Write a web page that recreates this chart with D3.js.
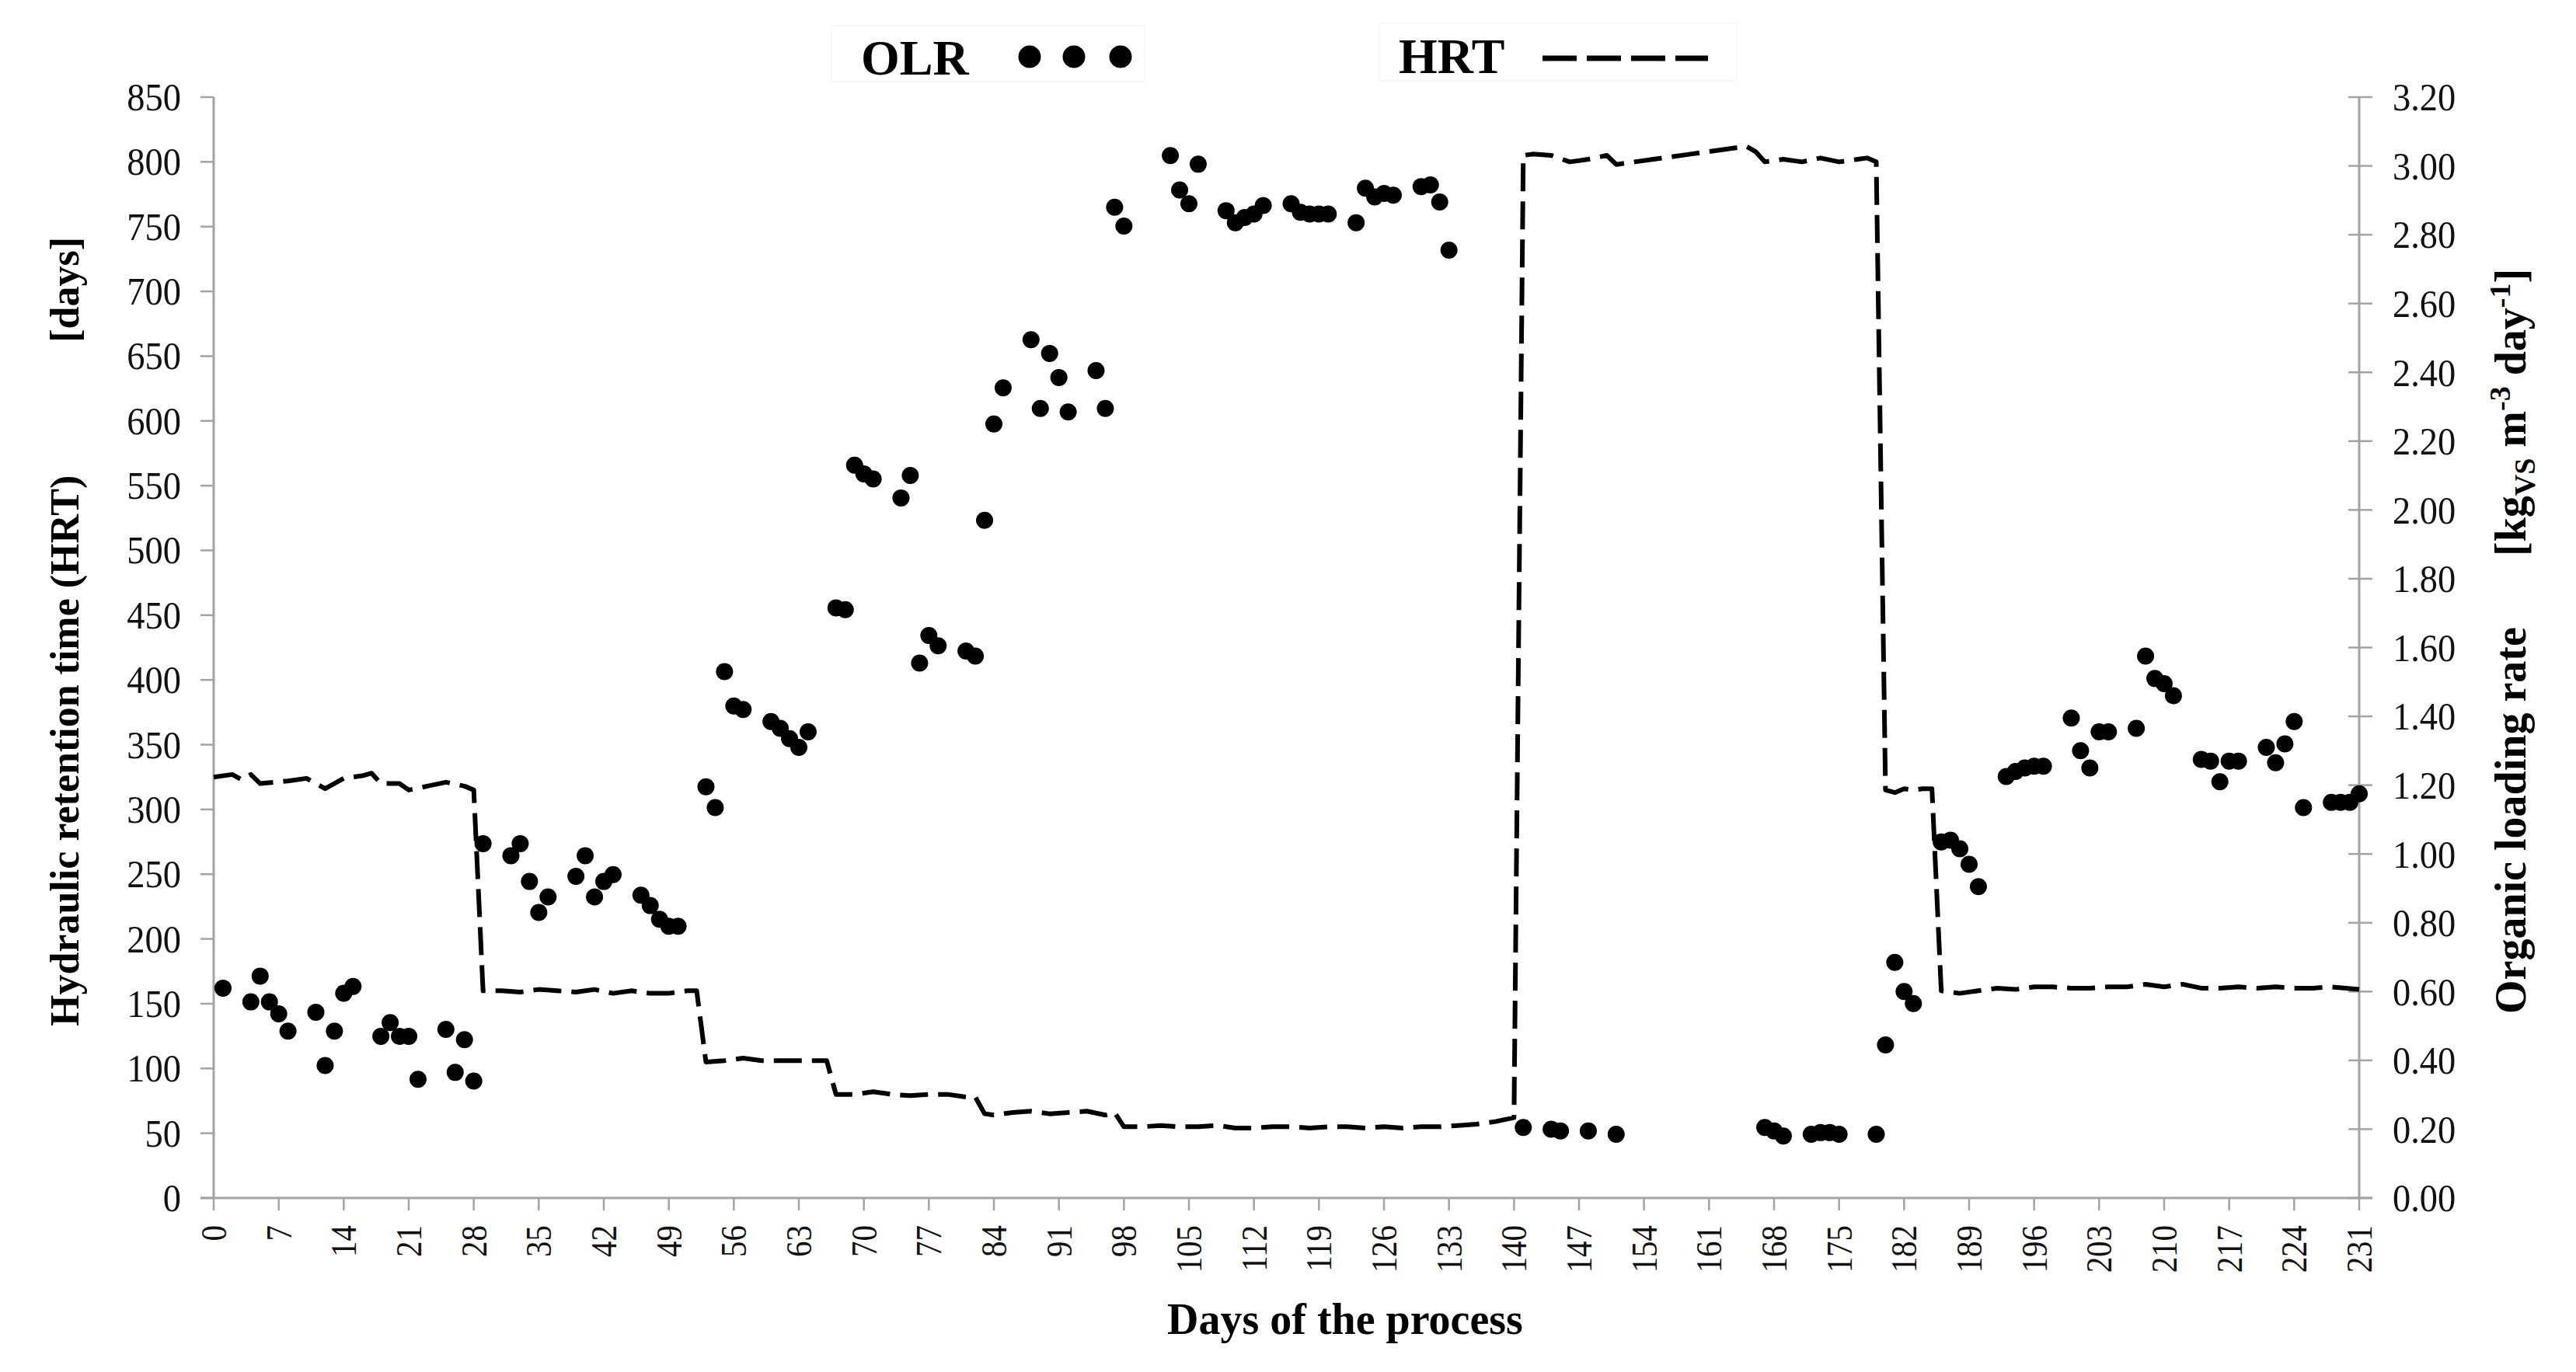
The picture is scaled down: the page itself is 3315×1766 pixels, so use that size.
<!DOCTYPE html>
<html>
<head>
<meta charset="utf-8">
<script src="https://cdn.jsdelivr.net/npm/d3@7"></script>
<style>
  html, body { margin: 0; padding: 0; background: #fff; }
  svg { display: block; }
</style>
</head>
<body>
<script>
// ---------------- DATA ----------------
const olrDays = [1,4,5,6,7,8,11,12,13,14,15,18,19,20,21,22,25,26,27,28,29,32,33,34,35,36,39,40,41,42,43,46,47,48,49,50,
  53,54,55,56,57,60,61,62,63,64,67,68,69,70,71,74,75,76,77,78,81,82,83,84,85,88,89,90,91,92,95,96,97,98,
  103,104,105,106,109,110,111,112,113,116,117,118,119,120,123,124,125,126,127,130,131,132,133,
  141,144,145,148,151,167,168,169,172,173,174,175,179,180,181,182,183,186,187,188,189,190,
  193,194,195,196,197,200,201,202,203,204,207,208,209,210,211,214,215,216,217,218,221,222,223,224,225,228,229,230,231];
const olrValues = [0.61,0.57,0.645,0.57,0.535,0.485,0.54,0.385,0.485,0.595,0.615,0.47,0.51,0.47,0.47,0.345,0.49,0.365,0.46,0.34,1.03,0.995,1.03,0.92,0.83,0.875,0.935,0.995,0.875,0.92,0.94,0.88,0.85,0.81,0.79,0.79,
  1.195,1.135,1.53,1.43,1.42,1.385,1.365,1.335,1.31,1.355,1.715,1.71,2.13,2.105,2.09,2.035,2.10,1.555,1.635,1.605,1.59,1.575,1.97,2.25,2.355,2.495,2.295,2.455,2.385,2.285,2.405,2.295,2.88,2.825,
  3.03,2.93,2.89,3.005,2.87,2.835,2.85,2.86,2.885,2.89,2.865,2.86,2.86,2.86,2.835,2.935,2.91,2.92,2.915,2.94,2.945,2.895,2.755,
  0.205,0.20,0.195,0.195,0.185,0.205,0.195,0.18,0.185,0.19,0.19,0.185,0.185,0.445,0.685,0.60,0.565,1.035,1.04,1.015,0.97,0.905,
  1.225,1.24,1.25,1.255,1.255,1.395,1.30,1.25,1.355,1.355,1.365,1.575,1.51,1.495,1.46,1.275,1.27,1.21,1.27,1.27,1.31,1.265,1.32,1.385,1.135,1.15,1.15,1.15,1.175];

const hrtDays = [0,2,3,4,5,8,10,11,12,14,16,17,18,20,21,23,25,27,28,29,31,33,35,37,39,41,43,45,47,49,51,52,53,55,57,59,61,63,65,66,67,69,71,73,75,77,79,81,82,83,84,86,88,90,92,94,96,97,98,
  100,102,104,106,108,110,112,114,116,118,120,122,124,126,128,130,132,134,136,138,140,141,142,144,146,148,150,151,153,155,157,159,161,163,165,166,167,169,171,173,175,177,178,179,180,181,182,183,184,185,186,
  188,190,192,194,196,198,200,202,204,206,208,210,212,214,216,218,220,222,224,226,228,231];
const hrtValues = [325,327,323,327,320,322,324,320,316,324,326,328,320,320,315,318,321,318,315,160,160,159,161,160,159,161,158,160,158,158,160,160,105,106,108,106,106,106,106,106,80,80,82,80,79,80,80,78,78,65,64,66,67,65,66,67,64,66,55,
  55,56,55,55,56,54,54,55,55,54,55,55,54,55,54,55,55,56,57,59,62,805,806,805,800,802,805,798,800,802,804,806,808,810,812,808,800,802,800,803,800,802,803,800,315,313,316,315,316,316,160,
  158,160,162,161,163,163,162,162,163,163,165,163,165,162,162,163,162,163,162,162,163,161];

const xTicks = d3.range(0, 232, 7);
const yLeftTicks = d3.range(0, 851, 50);
const yRightTicks = d3.range(0, 17).map(i => i * 0.2);

// ---------------- LAYOUT ----------------
const W = 3315, H = 1766;
const x = d3.scaleLinear().domain([0, 231]).range([275, 3036]);
const yL = d3.scaleLinear().domain([0, 850]).range([1542, 125]);
const yR = d3.scaleLinear().domain([0, 3.2]).range([1542, 125]);

const svg = d3.select("body").append("svg").attr("width", W).attr("height", H);
const axisColor = "#a3a3a3";
const tickFont = "'Liberation Serif', 'Times New Roman', serif";
const titleFont = "'Liberation Serif', 'Times New Roman', serif";

// axis lines
svg.append("line").attr("x1", x(0)).attr("x2", x(0)).attr("y1", yL(850)).attr("y2", yL(0))
  .attr("stroke", axisColor).attr("stroke-width", 3);
svg.append("line").attr("x1", x(231)).attr("x2", x(231)).attr("y1", yR(3.2)).attr("y2", yR(0))
  .attr("stroke", axisColor).attr("stroke-width", 3);
svg.append("line").attr("x1", 258).attr("x2", 3053).attr("y1", yL(0)).attr("y2", yL(0))
  .attr("stroke", axisColor).attr("stroke-width", 3);

// left ticks + labels
const gl = svg.append("g");
gl.selectAll("line").data(yLeftTicks).join("line")
  .attr("x1", 258).attr("x2", x(0)).attr("y1", d => yL(d)).attr("y2", d => yL(d))
  .attr("stroke", axisColor).attr("stroke-width", 2.5);
gl.selectAll("g.lab").data(yLeftTicks).join("g").attr("class", "lab")
  .attr("transform", d => `translate(233,${yL(d)}) scale(0.93,1)`)
  .append("text").attr("text-anchor", "end").attr("dy", "0.34em")
  .attr("font-family", tickFont).attr("font-size", 50).attr("fill", "#111")
  .text(d => d);

// right ticks + labels
const gr = svg.append("g");
gr.selectAll("line").data(yRightTicks).join("line")
  .attr("x1", 3022).attr("x2", 3053).attr("y1", d => yR(d)).attr("y2", d => yR(d))
  .attr("stroke", axisColor).attr("stroke-width", 2.5);
gr.selectAll("g.lab").data(yRightTicks).join("g").attr("class", "lab")
  .attr("transform", d => `translate(3079,${yR(d)}) scale(0.91,1)`)
  .append("text").attr("text-anchor", "start").attr("dy", "0.34em")
  .attr("font-family", tickFont).attr("font-size", 51).attr("fill", "#111")
  .text(d => d.toFixed(2));

// bottom ticks + labels
const gb = svg.append("g");
gb.selectAll("line").data(xTicks).join("line")
  .attr("x1", d => x(d)).attr("x2", d => x(d)).attr("y1", yL(0)).attr("y2", 1558)
  .attr("stroke", axisColor).attr("stroke-width", 2.5);
gb.selectAll("g.lab").data(xTicks).join("g").attr("class", "lab")
  .attr("transform", d => `translate(${x(d)},1577) rotate(-90) scale(0.87,1)`)
  .append("text").attr("text-anchor", "end").attr("dy", "0.34em")
  .attr("font-family", tickFont).attr("font-size", 47).attr("fill", "#111")
  .text(d => d);

// ---------------- SERIES ----------------
const hrtData = hrtDays.map((d, i) => [d, hrtValues[i]]);
const line = d3.line().x(d => x(d[0])).y(d => yL(d[1]));
svg.append("path").datum(hrtData).attr("d", line)
  .attr("fill", "none").attr("stroke", "#000").attr("stroke-width", 6)
  .attr("stroke-dasharray", "36,13").attr("stroke-linejoin", "round");

const olrData = olrDays.map((d, i) => [d, olrValues[i]]);
svg.append("g").selectAll("circle").data(olrData).join("circle")
  .attr("cx", d => x(d[0])).attr("cy", d => yR(d[1])).attr("r", 11).attr("fill", "#000");

// ---------------- TITLES ----------------
svg.append("text").attr("transform", "translate(101,1321) rotate(-90)")
  .attr("text-anchor", "start").attr("font-family", titleFont).attr("font-weight", "bold")
  .attr("font-size", 52).text("Hydraulic retention time (HRT)");
svg.append("text").attr("transform", "translate(101,305) rotate(-90)")
  .attr("text-anchor", "end").attr("font-family", titleFont).attr("font-weight", "bold")
  .attr("font-size", 52).text("[days]");

svg.append("text").attr("transform", "translate(3250,1305) rotate(-90)")
  .attr("text-anchor", "start").attr("font-family", titleFont).attr("font-weight", "bold")
  .attr("font-size", 56).text("Organic loading rate");
const unit = svg.append("text").attr("transform", "translate(3250,716) rotate(-90)")
  .attr("text-anchor", "start").attr("font-family", titleFont).attr("font-weight", "bold")
  .attr("font-size", 56);
unit.append("tspan").text("[kg");
unit.append("tspan").attr("dy", 12).attr("font-size", 38).text("VS");
unit.append("tspan").attr("dy", -12).text(" m");
unit.append("tspan").attr("dy", -20).attr("font-size", 38).text("-3");
unit.append("tspan").attr("dy", 20).text(" day");
unit.append("tspan").attr("dy", -20).attr("font-size", 38).text("-1");
unit.append("tspan").attr("dy", 20).text("]");

svg.append("text").attr("x", 1731).attr("y", 1717).attr("text-anchor", "middle")
  .attr("font-family", titleFont).attr("font-weight", "bold").attr("font-size", 56)
  .text("Days of the process");

// ---------------- LEGEND ----------------
svg.append("rect").attr("x", 1070).attr("y", 33).attr("width", 403).attr("height", 72)
  .attr("fill", "none").attr("stroke", "#f8f8f8").attr("stroke-width", 2);
svg.append("text").attr("x", 1108).attr("y", 96).attr("font-family", titleFont)
  .attr("font-weight", "bold").attr("font-size", 64).text("OLR");
svg.append("g").selectAll("circle").data([1325, 1382, 1442]).join("circle")
  .attr("cx", d => d).attr("cy", 73).attr("r", 14.5).attr("fill", "#000");

svg.append("rect").attr("x", 1775).attr("y", 30).attr("width", 460).attr("height", 74)
  .attr("fill", "none").attr("stroke", "#f8f8f8").attr("stroke-width", 2);
svg.append("text").attr("x", 1800).attr("y", 94).attr("font-family", titleFont)
  .attr("font-weight", "bold").attr("font-size", 64).text("HRT");
svg.append("line").attr("x1", 1985).attr("x2", 2198).attr("y1", 75).attr("y2", 75)
  .attr("stroke", "#000").attr("stroke-width", 7).attr("stroke-dasharray", "44,13");
</script>
</body>
</html>
